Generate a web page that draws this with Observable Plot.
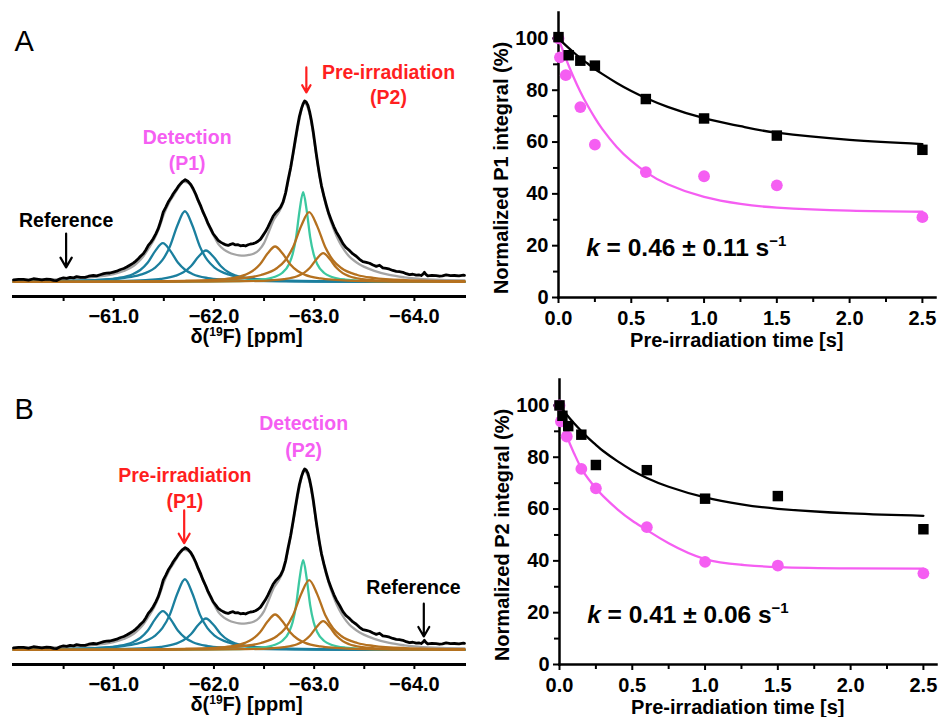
<!DOCTYPE html>
<html><head><meta charset="utf-8">
<script src="https://cdn.jsdelivr.net/npm/d3@7"></script>
<script src="https://cdn.jsdelivr.net/npm/@observablehq/plot@0.6"></script>
<style>
body{margin:0;background:#fff;}
#root{position:relative;width:939px;height:717px;background:#fff;overflow:hidden;}
#root svg{position:absolute;overflow:visible;}
#root svg text{font-family:"Liberation Sans",Arial,Helvetica,sans-serif;}
</style></head><body><div id="root"></div>
<script>
// ---------- 19F NMR spectrum (same spectrum in panels A and B) ----------
const ppmTicks = [-61, -62, -63, -64];
const ppmMinorTicks = [-60.5, -61.5, -62.5, -63.5];

// experimental spectrum (black)
const expPpm = [-60.0,-60.05,-60.1,-60.15,-60.2,-60.25,-60.283,-60.33,-60.366,-60.4,-60.432,-60.465,-60.498,-60.53,-60.565,-60.6,-60.63,-60.67,-60.714,-60.75,-60.797,-60.83,-60.864,-60.9,-60.93,-60.96,-60.996,-61.03,-61.063,-61.1,-61.13,-61.16,-61.195,-61.22,-61.245,-61.27,-61.295,-61.32,-61.345,-61.37,-61.394,-61.42,-61.444,-61.47,-61.494,-61.52,-61.544,-61.57,-61.594,-61.62,-61.644,-61.667,-61.687,-61.713,-61.743,-61.77,-61.793,-61.82,-61.843,-61.87,-61.892,-61.92,-61.942,-61.97,-61.992,-62.02,-62.042,-62.07,-62.092,-62.12,-62.142,-62.165,-62.191,-62.215,-62.241,-62.265,-62.291,-62.315,-62.341,-62.365,-62.391,-62.415,-62.44,-62.465,-62.49,-62.515,-62.54,-62.565,-62.59,-62.615,-62.64,-62.665,-62.689,-62.715,-62.739,-62.765,-62.789,-62.81,-62.833,-62.853,-62.873,-62.89,-62.905,-62.92,-62.938,-62.955,-62.972,-62.99,-63.005,-63.02,-63.038,-63.055,-63.072,-63.097,-63.122,-63.146,-63.171,-63.196,-63.221,-63.254,-63.287,-63.32,-63.354,-63.387,-63.42,-63.453,-63.486,-63.52,-63.553,-63.587,-63.62,-63.652,-63.685,-63.72,-63.752,-63.785,-63.819,-63.85,-63.885,-63.918,-63.951,-63.985,-64.018,-64.045,-64.068,-64.085,-64.1,-64.115,-64.133,-64.175,-64.217,-64.25,-64.28,-64.317,-64.36,-64.4,-64.445,-64.489,-64.5];
const expInt = [1.2,1.5,1.4,1.0,1.8,1.5,1.2,1.6,1.4,0.9,0.8,1.8,2.3,2.0,2.6,2.3,3.0,2.6,2.6,3.2,3.6,3.4,4.0,4.6,4.9,5.0,5.5,6.0,6.8,7.5,8.3,9.3,10.5,11.6,12.9,14.4,15.7,17.8,20.3,22.0,24.0,26.7,29.6,34.0,38.8,41.6,44.4,46.6,49.0,51.0,53.1,54.6,55.8,56.8,55.8,54.0,51.8,48.6,45.3,42.0,38.8,35.4,32.4,29.4,26.8,24.8,23.1,22.0,21.3,20.6,20.3,20.9,21.3,20.6,20.7,20.1,20.3,20.0,20.7,21.1,21.3,21.8,22.6,23.8,25.9,28.0,30.6,33.6,36.5,38.4,39.8,41.6,44.4,49.5,56.5,63.5,71.3,78.5,86.1,92.0,96.3,99.0,100.5,100.0,98.1,94.5,89.8,83.8,77.7,71.5,64.8,59.0,53.7,47.8,42.6,38.0,34.3,30.8,27.8,24.7,21.3,19.0,17.4,15.6,14.3,12.6,11.3,10.9,10.4,9.4,8.7,9.3,7.8,7.5,7.1,6.4,5.9,5.7,5.4,4.6,4.1,4.3,3.8,3.9,3.6,4.3,5.4,4.2,3.4,3.7,3.5,3.2,3.4,3.9,3.5,3.6,3.4,3.8,3.7];

// total fit (gray)
const fitPpm = [-60.0,-60.2,-60.4,-60.6,-60.8,-60.9,-61.0,-61.1,-61.2,-61.25,-61.3,-61.35,-61.4,-61.45,-61.5,-61.55,-61.6,-61.65,-61.7,-61.75,-61.8,-61.85,-61.9,-61.95,-62.0,-62.05,-62.1,-62.15,-62.2,-62.25,-62.3,-62.35,-62.4,-62.45,-62.5,-62.55,-62.6,-62.65,-62.7,-62.75,-62.8,-62.85,-62.9,-62.95,-63.0,-63.05,-63.1,-63.15,-63.2,-63.25,-63.3,-63.35,-63.4,-63.45,-63.5,-63.6,-63.75,-63.9,-64.0,-64.2,-64.5];
const fitInt = [0.9,1.1,1.4,1.9,2.7,3.4,4.4,6.1,9.0,11.4,14.6,18.8,23.3,29.5,37.6,43.8,48.3,52.7,55.6,54.8,50.3,43.9,37.4,30.8,25.4,20.6,18.0,16.4,15.4,14.8,14.7,15.0,15.8,17.8,21.6,28.2,34.8,39.0,45.5,58.3,73.8,89.6,99.3,94.3,78.6,60.0,46.4,36.3,28.6,22.3,17.7,14.2,11.8,9.9,8.4,6.2,3.9,2.6,2.0,1.3,0.9];

// P1 components (blue)
const p1aPpm = [-60.0,-60.59,-60.89,-61.04,-61.19,-61.265,-61.34,-61.415,-61.49,-61.565,-61.64,-61.715,-61.79,-61.94,-62.09,-62.39,-62.99,-64.5];
const p1aInt = [0.21,0.58,1.27,2.16,4.32,6.65,10.8,17.3,21.6,17.3,10.8,6.65,4.32,2.16,1.27,0.58,0.21,0.05];
const p1bPpm = [-60.0,-60.21,-60.81,-61.11,-61.26,-61.41,-61.485,-61.56,-61.635,-61.71,-61.785,-61.86,-61.935,-62.01,-62.16,-62.31,-62.61,-63.21,-64.5];
const p1bInt = [0.30,0.39,1.06,2.31,3.93,7.86,12.1,19.65,31.4,39.3,31.4,19.65,12.1,7.86,3.93,2.31,1.06,0.39,0.11];
const p1cPpm = [-60.0,-60.42,-61.02,-61.32,-61.47,-61.62,-61.695,-61.77,-61.845,-61.92,-61.995,-62.07,-62.145,-62.22,-62.37,-62.52,-62.82,-63.42,-64.5];
const p1cInt = [0.11,0.17,0.47,1.03,1.75,3.5,5.39,8.75,14.0,17.5,14.0,8.75,5.39,3.5,1.75,1.03,0.47,0.17,0.06];
// P2 component (green)
const p2gPpm = [-60.0,-61.49,-62.19,-62.47,-62.61,-62.68,-62.75,-62.785,-62.82,-62.855,-62.89,-62.925,-62.96,-62.995,-63.03,-63.1,-63.17,-63.31,-63.59,-64.29,-64.5];
const p2gInt = [0.03,0.125,0.49,1.35,2.93,4.99,9.98,15.37,24.95,39.92,49.9,39.92,24.95,15.37,9.98,4.99,2.93,1.35,0.49,0.125,0.09];
// P2 components (orange)
const p2aPpm = [-60.0,-61.11,-61.71,-62.01,-62.16,-62.31,-62.385,-62.46,-62.535,-62.61,-62.685,-62.76,-62.835,-62.91,-63.06,-63.21,-63.51,-64.11,-64.5];
const p2aInt = [0.065,0.195,0.53,1.16,1.97,3.94,6.07,9.85,15.76,19.7,15.76,9.85,6.07,3.94,1.97,1.16,0.53,0.195,0.12];
const p2bPpm = [-60.0,-61.35,-61.99,-62.31,-62.47,-62.63,-62.71,-62.79,-62.87,-62.95,-63.03,-63.11,-63.19,-63.27,-63.43,-63.59,-63.91,-64.5];
const p2bInt = [0.114,0.38,1.05,2.28,3.88,7.76,11.95,19.4,31.04,38.8,31.04,19.4,11.95,7.76,3.88,2.28,1.05,0.41];
const p2cPpm = [-60.0,-60.49,-61.79,-62.31,-62.57,-62.7,-62.83,-62.895,-62.96,-63.025,-63.09,-63.155,-63.22,-63.285,-63.35,-63.48,-63.61,-63.87,-64.39,-64.5];
const p2cInt = [0.028,0.04,0.16,0.43,0.94,1.6,3.2,4.93,8.0,12.8,16.0,12.8,8.0,4.93,3.2,1.6,0.94,0.43,0.16,0.13];

// ---------- saturation-transfer decay ----------
const timeTicks = [0, 0.5, 1.0, 1.5, 2.0, 2.5];
const timeMinorTicks = [0.25, 0.75, 1.25, 1.75, 2.25];
const pctTicks = [0, 20, 40, 60, 80, 100];
const pctMinorTicks = [10, 30, 50, 70, 90];

// panel A (P1 integral)
const aBlackT = [0, 0.07, 0.15, 0.25, 0.6, 1.0, 1.5, 2.5];
const aBlackV = [100.5, 93.5, 91.4, 89.5, 76.6, 69.1, 62.5, 57];
const aPinkT = [0, 0.01, 0.05, 0.15, 0.25, 0.6, 1.0, 1.5, 2.5];
const aPinkV = [100, 92.7, 85.8, 73.5, 59, 48.4, 46.8, 43.3, 31];
// panel B (P2 integral)
const bBlackT = [0, 0.02, 0.06, 0.15, 0.25, 0.6, 1.0, 1.5, 2.5];
const bBlackV = [100, 96, 92, 88.7, 77, 75, 64, 65, 52.2];
const bPinkT = [0, 0.01, 0.05, 0.15, 0.25, 0.6, 1.0, 1.5, 2.5];
const bPinkV = [100, 93.8, 88, 75.5, 68, 53, 39.6, 38.2, 35.2];

// fitted curves (read along the drawn fits)
const fitT = [0, 0.05, 0.1, 0.15, 0.2, 0.25, 0.3, 0.4, 0.5, 0.6, 0.75, 1.0, 1.25, 1.5, 2.0, 2.5];
const aFitBlack = [100, 97.3, 94.8, 92.4, 90.3, 88.2, 86.3, 82.8, 79.7, 77.0, 73.6, 69.2, 66.1, 63.6, 60.8, 59.2];
const aFitPink = [100, 92.3, 85.5, 79.4, 74.1, 69.3, 65.1, 58.1, 52.7, 48.4, 43.7, 38.8, 36.1, 34.7, 33.5, 33.1];
const bFitBlack = [100, 96.4, 93.1, 90.1, 87.3, 84.8, 82.4, 78.4, 74.9, 72.0, 68.6, 64.5, 61.8, 60.1, 58.3, 57.4];
const bFitPink = [100, 88.5, 81.5, 75.7, 71.5, 68, 65, 59.8, 55.5, 51.9, 46.8, 40.7, 38.5, 37.6, 37.1, 37.0];

const kA = ["0.46", "0.11"];
const kB = ["0.41", "0.06"];

// ---------- styles ----------
const FONT = '"Liberation Sans", Arial, Helvetica, sans-serif';
const PINK = "#f55ef2", RED = "#ff1f1f", BLUE = "#1b7f9e", GREEN = "#3cc8a0", ORANGE = "#b5711f", GRAY = "#a4a4a4";
const root = document.getElementById("root");
const NS = "http://www.w3.org/2000/svg";

function place(svg, left, top) {
  svg.style.left = left + "px"; svg.style.top = top + "px";
  root.appendChild(svg);
}
function ln(xs, ys, stroke, sw, curve) {
  return Plot.line(ys, {x: xs, y: ys, stroke, strokeWidth: sw, curve, strokeLinejoin: "round", strokeLinecap: "round"});
}
function txt(s, x, y, fill, extra = {}) {
  return Plot.text([s], {x: () => x, y: () => y, text: d => d, fill, fontSize: 19.5, fontWeight: "bold", textAnchor: "middle", lineAnchor: "middle", ...extra});
}
function arrow(x, y1, y2, stroke) {
  return Plot.arrow([0], {x1: () => x, x2: () => x, y1: () => y1, y2: () => y2, stroke, strokeWidth: 2.2, headLength: 9});
}

function spectrum(letter, notes) {
  return Plot.plot({
    width: 470, height: 350, marginLeft: 13, marginRight: 6, marginTop: 10, marginBottom: 54,
    style: {fontFamily: FONT, fontWeight: "bold", background: "transparent", overflow: "visible"},
    x: {domain: [-60, -64.5], label: null},
    y: {domain: [-8.06, 150.8], axis: null, label: null},
    marks: [
      Plot.axisX({ticks: ppmTicks, tickFormat: d3.format(".1f"), tickSize: 5, tickPadding: 7, strokeWidth: 2, fontSize: 20, fontWeight: "bold", label: null}),
      Plot.axisX({ticks: ppmMinorTicks, tickFormat: () => "", tickSize: 5, strokeWidth: 2, label: null}),
      Plot.frame({anchor: "bottom", strokeWidth: 3}),
      ln(fitPpm, fitInt, GRAY, 2.3, "monotone-x"),
      ln(p1aPpm, p1aInt, BLUE, 2.3, "monotone-x"),
      ln(p1bPpm, p1bInt, BLUE, 2.3, "monotone-x"),
      ln(p1cPpm, p1cInt, BLUE, 2.3, "monotone-x"),
      ln(p2gPpm, p2gInt, GREEN, 2.3, "monotone-x"),
      ln(p2aPpm, p2aInt, ORANGE, 2.3, "monotone-x"),
      ln(p2bPpm, p2bInt, ORANGE, 2.3, "monotone-x"),
      ln(p2cPpm, p2cInt, ORANGE, 2.3, "monotone-x"),
      ln(expPpm, expInt, "black", 2.8, "linear"),
      Plot.text(["δ(19F) [ppm]"], {x: () => -62.325, frameAnchor: "bottom", dy: 40, text: d => d, fontSize: 20, fontWeight: "bold", textAnchor: "middle", lineAnchor: "middle"}),
      Plot.text([letter], {frameAnchor: "top-left", dx: 1, dy: 31, text: d => d, fontSize: 29, fontWeight: "normal", textAnchor: "start", lineAnchor: "middle"}),
      ...notes
    ]
  });
}

function decay(ylabel, bT, bV, pT, pV, fBlack, fPink, k) {
  return Plot.plot({
    width: 469, height: 350, marginLeft: 88, marginRight: 4, marginTop: 12, marginBottom: 53,
    style: {fontFamily: FONT, fontWeight: "bold", background: "transparent", overflow: "visible"},
    x: {domain: [0, 2.59], label: null},
    y: {domain: [0, 110], label: null},
    marks: [
      Plot.axisX({ticks: timeTicks, tickFormat: d3.format(".1f"), tickSize: 6, tickPadding: 7, strokeWidth: 2, fontSize: 20, fontWeight: "bold", label: null}),
      Plot.axisX({ticks: timeMinorTicks, tickFormat: () => "", tickSize: 5, strokeWidth: 2, label: null}),
      Plot.axisY({ticks: pctTicks, tickSize: 6, tickPadding: 4, strokeWidth: 2, fontSize: 20, fontWeight: "bold", label: null}),
      Plot.axisY({ticks: pctMinorTicks, tickFormat: () => "", tickSize: 5, strokeWidth: 2, label: null}),
      Plot.frame({anchor: "left", strokeWidth: 2.5}),
      Plot.frame({anchor: "bottom", strokeWidth: 2.5}),
      Plot.line(fPink, {x: fitT, y: fPink, stroke: PINK, strokeWidth: 2.3, curve: "natural"}),
      Plot.dot(pV, {x: pT, y: pV, r: 5.9, fill: PINK, symbol: "circle"}),
      Plot.line(fBlack, {x: fitT, y: fBlack, stroke: "black", strokeWidth: 2.3, curve: "natural"}),
      Plot.dot(bV, {x: bT, y: bV, r: 5.9, fill: "black", symbol: "square"}),
      Plot.text([ylabel], {frameAnchor: "left", y: () => 50, dx: -57, rotate: -90, text: d => d, fontSize: 20, fontWeight: "bold", textAnchor: "middle", lineAnchor: "middle"}),
      Plot.text(["Pre-irradiation time [s]"], {x: () => 1.225, frameAnchor: "bottom", dy: 43, text: d => d, fontSize: 20, fontWeight: "bold", textAnchor: "middle", lineAnchor: "middle"}),
      Plot.text([`k = ${k[0]} ± ${k[1]} s−1`], {x: () => 0.19, y: () => 19, text: d => d, fontSize: 24.5, fontWeight: "bold", textAnchor: "start", lineAnchor: "middle"})
    ]
  });
}

function fixTexts(svg) {
  for (const t of svg.querySelectorAll("text")) {
    const s = t.textContent;
    if (s === "δ(19F) [ppm]") {
      t.textContent = "";
      t.appendChild(document.createTextNode("δ("));
      const a = document.createElementNS(NS, "tspan"); a.setAttribute("font-size", "12"); a.setAttribute("dy", "-7"); a.textContent = "19"; t.appendChild(a);
      const b = document.createElementNS(NS, "tspan"); b.setAttribute("dy", "7"); b.textContent = "F) [ppm]"; t.appendChild(b);
    } else if (s.startsWith("k = ")) {
      const body = s.slice(1, s.length - 2);
      t.textContent = "";
      const a = document.createElementNS(NS, "tspan"); a.setAttribute("font-style", "italic"); a.textContent = "k"; t.appendChild(a);
      t.appendChild(document.createTextNode(body));
      const b = document.createElementNS(NS, "tspan"); b.setAttribute("font-size", "15"); b.setAttribute("dy", "-10"); b.textContent = "−1"; t.appendChild(b);
    }
  }
}

const specA = spectrum("A", [
  txt("Reference", -60.525, 34.2, "black"),
  arrow(-60.525, 26.9, 8.1, "black"),
  txt("Detection", -61.733, 80.3, PINK),
  txt("(P1)", -61.733, 65.8, PINK),
  arrow(-62.922, 119.2, 105.3, RED),
  txt("Pre-irradiation", -63.742, 116.4, RED),
  txt("(P2)", -63.742, 102.5, RED)
]);
const specB = spectrum("B", [
  txt("Detection", -62.895, 125.8, PINK),
  txt("(P2)", -62.895, 110.8, PINK),
  txt("Pre-irradiation", -61.71, 96.9, RED),
  txt("(P1)", -61.71, 82.5, RED),
  arrow(-61.703, 77.5, 59.3, RED),
  txt("Reference", -63.991, 34.4, "black"),
  arrow(-64.094, 25.7, 7.5, "black")
]);
const decA = decay("Normalized P1 integral (%)", aBlackT, aBlackV, aPinkT, aPinkV, aFitBlack, aFitPink, kA);
const decB = decay("Normalized P2 integral (%)", bBlackT, bBlackV, bPinkT, bPinkV, bFitBlack, bFitPink, kB);
[specA, specB, decA, decB].forEach(fixTexts);
place(specA, 0, 0);
place(specB, 0, 368);
place(decA, 470, 0);
place(decB, 471, 367);
</script></body></html>
